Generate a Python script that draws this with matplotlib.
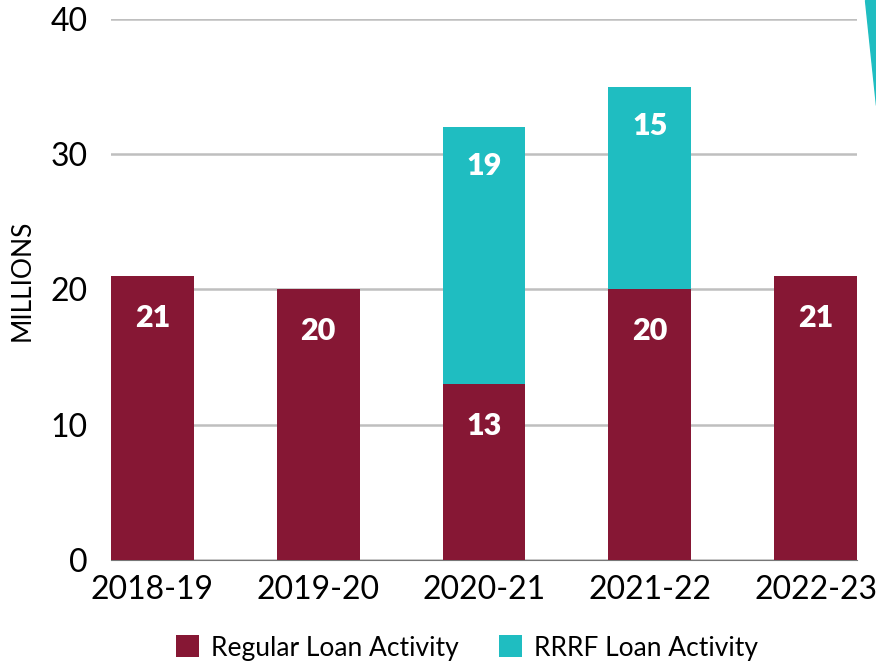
import matplotlib.pyplot as plt
from matplotlib.patches import Polygon

# data
years = ['2018-19', '2019-20', '2020-21', '2021-22', '2022-23']
regular = [21, 20, 13, 20, 21]
rrrf = [0, 0, 19, 15, 0]

maroon = '#861734'
teal = '#1fbdc1'

plt.rcParams['font.family'] = ['Lato', 'DejaVu Sans']

fig = plt.figure(figsize=(8.76, 6.65), dpi=100)
ax = fig.add_axes([111 / 876, 105 / 665, 746 / 876, 541 / 665])

x = range(len(years))
b1 = ax.bar(x, regular, width=0.5, color=maroon, label='Regular Loan Activity', zorder=3)
b2 = ax.bar(x, rrrf, width=0.5, bottom=regular, color=teal, label='RRRF Loan Activity', zorder=3)

# value labels near the top of each segment
for i in x:
    ax.annotate(str(regular[i]), (i, regular[i]), xytext=(0, -30), textcoords='offset points',
                ha='center', va='center', color='white', fontsize=22, fontweight='heavy', zorder=4)
    if rrrf[i] > 0:
        top = regular[i] + rrrf[i]
        ax.annotate(str(rrrf[i]), (i, top), xytext=(0, -28), textcoords='offset points',
                    ha='center', va='center', color='white', fontsize=22, fontweight='heavy', zorder=4)

ax.set_xlim(-0.25, 4.25)
ax.set_ylim(0, 40)
ax.set_yticks([0, 10, 20, 30, 40])
ax.set_xticks(list(x))
ax.set_xticklabels(years)
ax.tick_params(axis='both', length=0, labelsize=23)
ax.tick_params(axis='y', pad=17)
ax.tick_params(axis='x', pad=11)
ax.yaxis.grid(True, color='#bfbfbf', linewidth=1.8, zorder=0)
for s in ['top', 'right', 'left']:
    ax.spines[s].set_visible(False)
ax.spines['bottom'].set_color('#777777')
ax.spines['bottom'].set_linewidth(0.8)

fig.text(22 / 876, 1 - 280 / 665, 'MILLIONS', rotation=90, ha='center', va='center', fontsize=19)

fig.legend(handles=[b1, b2], loc='center', bbox_to_anchor=(0.533, 1 - 648 / 665), ncol=2,
           frameon=False, fontsize=19, handlelength=0.9, handleheight=0.9,
           columnspacing=1.5, handletextpad=0.45)

# cut-off teal shape at top-right corner
fig.patches.append(Polygon([(865 / 876, 1), (1, 1), (1, 1 - 105 / 665)], closed=True,
                           transform=fig.transFigure, color=teal))

fig.savefig('out.png', dpi=100)
